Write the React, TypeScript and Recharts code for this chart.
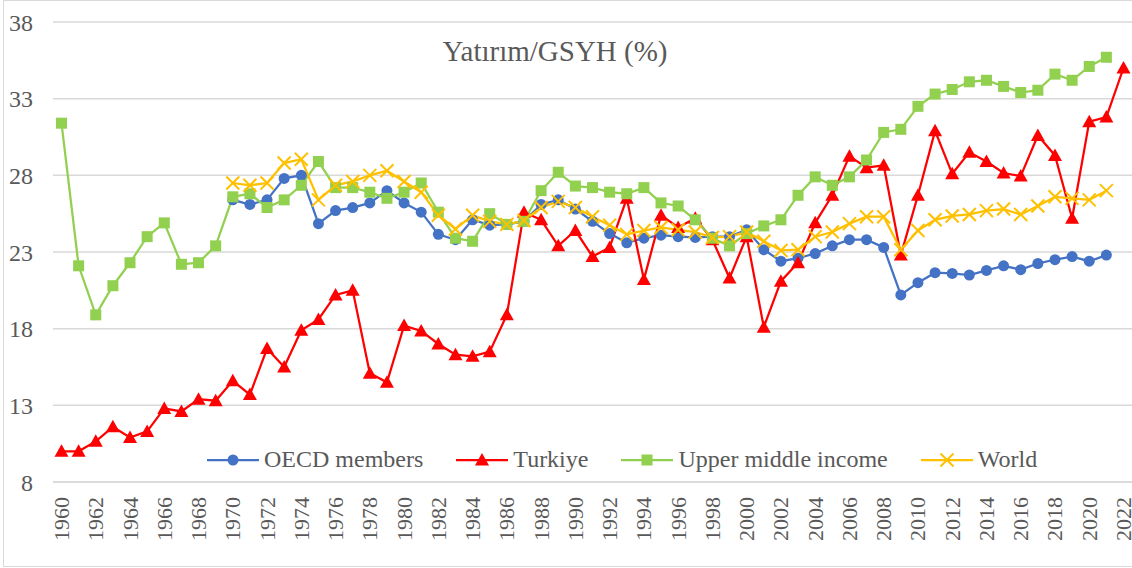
import { LineChart, Line, XAxis, YAxis, CartesianGrid, Legend } from "recharts";

const YEARS = [
  "1960", "1961", "1962", "1963", "1964", "1965", "1966", "1967", "1968", "1969",
  "1970", "1971", "1972", "1973", "1974", "1975", "1976", "1977", "1978", "1979",
  "1980", "1981", "1982", "1983", "1984", "1985", "1986", "1987", "1988", "1989",
  "1990", "1991", "1992", "1993", "1994", "1995", "1996", "1997", "1998", "1999",
  "2000", "2001", "2002", "2003", "2004", "2005", "2006", "2007", "2008", "2009",
  "2010", "2011", "2012", "2013", "2014", "2015", "2016", "2017", "2018", "2019",
  "2020", "2021", "2022",
];

const OECD = [
  null, null, null, null, null, null, null, null, null, null,
  26.4, 26.1, 26.4, 27.8, 28.0, 24.85, 25.7, 25.9, 26.2, 27.0,
  26.2, 25.6, 24.15, 23.8, 25.1, 24.75, 24.8, 25.0, 26.1, 26.4,
  25.8, 25.0, 24.2, 23.6, 23.9, 24.1, 24.0, 23.95, 24.0, 24.0,
  24.45, 23.15, 22.4, 22.6, 22.9, 23.4, 23.8, 23.8, 23.3, 20.2,
  21.0, 21.65, 21.6, 21.5, 21.8, 22.1, 21.85, 22.25, 22.5, 22.7,
  22.4, 22.8, null,
];

const TURKIYE = [
  10.0, 10.0, 10.65, 11.6, 10.9, 11.3, 12.8, 12.6, 13.4, 13.3,
  14.6, 13.7, 16.7, 15.5, 17.9, 18.6, 20.2, 20.5, 15.1, 14.5,
  18.2, 17.85, 17.0, 16.3, 16.2, 16.5, 18.9, 25.6, 25.1, 23.4,
  24.4, 22.7, 23.3, 26.5, 21.2, 25.4, 24.6, 25.2, 23.8, 21.3,
  24.0, 18.1, 21.1, 22.3, 24.9, 26.7, 29.25, 28.5, 28.65, 22.8,
  26.7, 30.9, 28.1, 29.5, 28.9, 28.15, 27.95, 30.6, 29.3, 25.2,
  31.5, 31.8, 35.0,
];

const UPPER_MIDDLE = [
  31.4, 22.1, 18.9, 20.8, 22.3, 24.0, 24.9, 22.2, 22.3, 23.4,
  26.6, 26.8, 25.9, 26.4, 27.35, 28.9, 27.2, 27.2, 26.9, 26.5,
  26.9, 27.5, 25.6, 23.9, 23.7, 25.5, 24.8, 25.0, 27.0, 28.2,
  27.3, 27.2, 26.9, 26.8, 27.2, 26.2, 26.0, 25.1, 23.9, 23.4,
  24.2, 24.7, 25.1, 26.7, 27.9, 27.35, 27.9, 29.0, 30.8, 31.0,
  32.5, 33.3, 33.6, 34.1, 34.2, 33.8, 33.4, 33.55, 34.6, 34.2,
  35.1, 35.7, null,
];

const WORLD = [
  null, null, null, null, null, null, null, null, null, null,
  27.5, 27.35, 27.5, 28.8, 29.05, 26.4, 27.35, 27.6, 28.0, 28.3,
  27.6, 26.9, 25.4, 24.5, 25.4, 25.0, 24.8, 25.05, 25.9, 26.3,
  25.9, 25.3, 24.75, 24.15, 24.4, 24.6, 24.45, 24.3, 23.95, 24.0,
  24.3, 23.7, 23.1, 23.15, 24.0, 24.3, 24.85, 25.3, 25.3, 23.15,
  24.4, 25.1, 25.35, 25.45, 25.7, 25.8, 25.45, 26.0, 26.6, 26.5,
  26.4, 27.0, null,
];

const Y_TICKS = [8, 13, 18, 23, 28, 33, 38];

const SERIES = [
  { key: "oecd", name: "OECD members", color: "#4472C4", marker: "circle" },
  { key: "turkiye", name: "Turkiye", color: "#FF0000", marker: "triangle" },
  { key: "upper", name: "Upper middle income", color: "#92D050", marker: "square" },
  { key: "world", name: "World", color: "#FFC000", marker: "x" },
];

const data = YEARS.map((year, i) => ({
  year,
  oecd: OECD[i],
  turkiye: TURKIYE[i],
  upper: UPPER_MIDDLE[i],
  world: WORLD[i],
}));

const FONT = "Liberation Serif, DejaVu Serif, serif";
const TEXT = "#595959";

function Marker({ type, cx, cy, color }: { type: string; cx: number; cy: number; color: string }) {
  if (type === "circle") return <circle cx={cx} cy={cy} r={5.5} fill={color} />;
  if (type === "square") return <rect x={cx - 5.5} y={cy - 5.5} width={11} height={11} fill={color} />;
  if (type === "triangle")
    return <polygon points={`${cx},${cy - 7} ${cx - 7},${cy + 5.5} ${cx + 7},${cy + 5.5}`} fill={color} />;
  return (
    <g stroke={color} strokeWidth={2}>
      <line x1={cx - 6.5} y1={cy - 6.5} x2={cx + 6.5} y2={cy + 6.5} />
      <line x1={cx - 6.5} y1={cy + 6.5} x2={cx + 6.5} y2={cy - 6.5} />
    </g>
  );
}

function makeDot(type: string, color: string) {
  return (props: any) => {
    const { cx, cy, index } = props;
    if (cx == null || cy == null || props.value == null) return <g key={`d-${index}`} />;
    return (
      <g key={`d-${index}`}>
        <Marker type={type} cx={cx} cy={cy} color={color} />
      </g>
    );
  };
}

// rotated year labels, centred on the tick
function YearTick(props: any) {
  const { x, y, payload } = props;
  const ty = y + 15;
  return (
    <text
      x={x}
      y={ty}
      transform={`rotate(-90, ${x}, ${ty})`}
      textAnchor="end"
      dominantBaseline="central"
      fontSize={22}
      fontFamily={FONT}
      fill={TEXT}
    >
      {payload.value}
    </text>
  );
}

function renderLegend() {
  return (
    <div style={{ display: "flex", alignItems: "center", gap: 33, fontFamily: FONT, fontSize: 24, color: TEXT }}>
      {SERIES.map((s) => (
        <div key={s.key} style={{ display: "flex", alignItems: "center", gap: 5 }}>
          <svg width={52} height={16}>
            <line x1={0} y1={8} x2={52} y2={8} stroke={s.color} strokeWidth={2.25} />
            <Marker type={s.marker} cx={26} cy={8} color={s.color} />
          </svg>
          <span>{s.name}</span>
        </div>
      ))}
    </div>
  );
}

export default function App() {
  return (
    <div style={{ position: "relative", width: 1132, height: 568, overflow: "hidden", background: "#fff" }}>
      <style>{`body{margin:0;overflow:hidden}`}</style>
      <div
        style={{
          position: "absolute",
          left: 3,
          top: 0,
          width: 1129,
          height: 567,
          boxSizing: "border-box",
          border: "1px solid #d9d9d9",
          borderRight: "none",
        }}
      />
      <LineChart
        width={1132}
        height={568}
        data={data}
        margin={{ top: 22, right: 0, bottom: 0, left: 0 }}
        style={{ position: "absolute", left: 0, top: 0 }}
      >
        <CartesianGrid vertical={false} stroke="#d9d9d9" strokeWidth={1.5} />
        <XAxis
          dataKey="year"
          interval={1}
          height={86}
          padding={{ left: 8.5, right: 8.5 }}
          tickSize={0}
          tickMargin={0}
          axisLine={{ stroke: "#d9d9d9", strokeWidth: 1.5 }}
          tickLine={false}
          tick={<YearTick />}
        />
        <YAxis
          domain={[8, 38]}
          ticks={Y_TICKS}
          width={53}
          tickSize={0}
          tickMargin={20}
          axisLine={false}
          tickLine={false}
          tick={{ fontSize: 24, fill: TEXT, fontFamily: FONT }}
        />
        {SERIES.map((s) => (
          <Line
            key={s.key}
            type="linear"
            dataKey={s.key}
            name={s.name}
            stroke={s.color}
            strokeWidth={2.25}
            dot={makeDot(s.marker, s.color)}
            activeDot={false}
            isAnimationActive={false}
          />
        ))}
        <Legend
          verticalAlign="middle"
          layout="horizontal"
          content={renderLegend}
          wrapperStyle={{ position: "absolute", left: 207, top: 446, width: "auto" }}
        />
      </LineChart>
      <div
        style={{
          position: "absolute",
          left: 355,
          top: 37,
          width: 400,
          textAlign: "center",
          fontFamily: FONT,
          fontSize: 29,
          lineHeight: "29px",
          color: TEXT,
        }}
      >
        Yatırım/GSYH (%)
      </div>
    </div>
  );
}
